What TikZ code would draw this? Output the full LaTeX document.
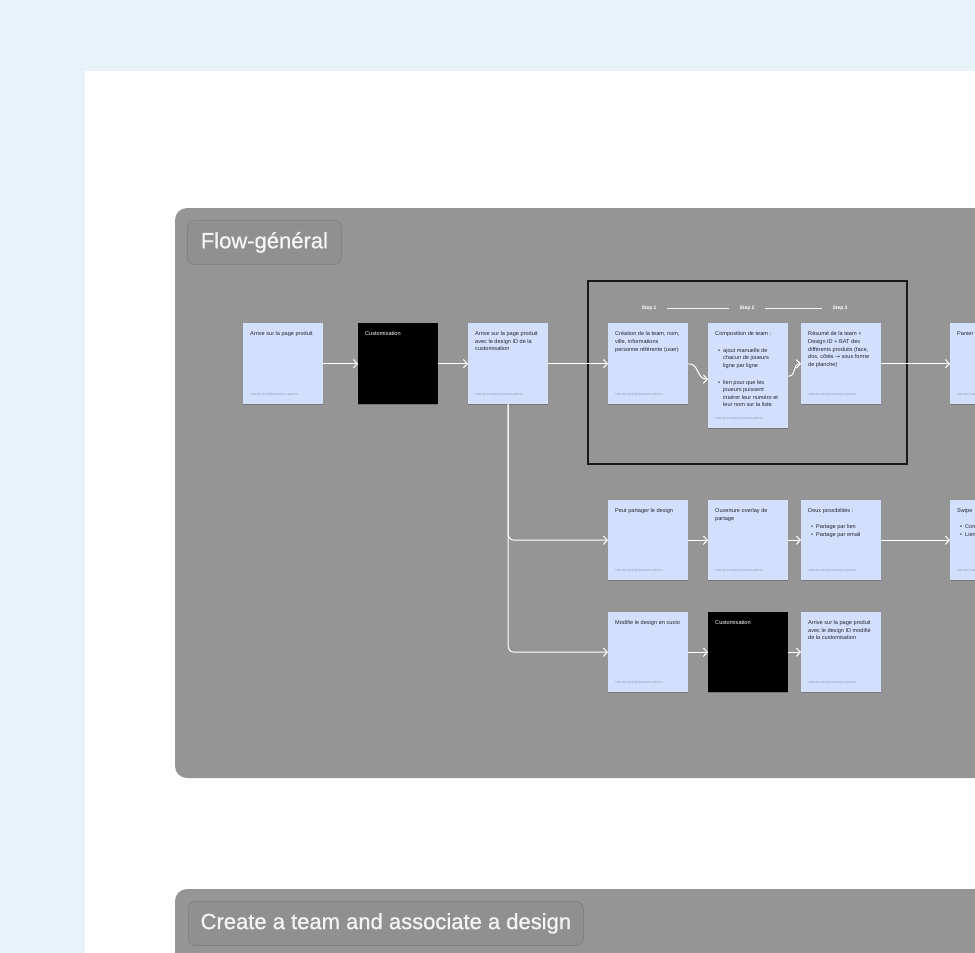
\documentclass[tikz,border=0pt]{standalone}
\usepackage{fontspec}
\setmainfont{Liberation Sans}
\newfontfamily\symfont{DejaVu Sans}
\newfontfamily\titlefont[FakeBold=0.8]{Liberation Sans}
\usetikzlibrary{arrows.meta,shadows}
\definecolor{bgblue}{RGB}{232,242,249}
\definecolor{sectgray}{RGB}{149,149,149}
\definecolor{pillgray}{RGB}{144,144,144}
\definecolor{pillline}{RGB}{130,130,130}
\definecolor{cardblue}{RGB}{211,224,251}
\definecolor{cardtext}{RGB}{35,38,50}
\definecolor{foottext}{RGB}{140,155,190}
\definecolor{boxline}{RGB}{25,25,25}
\newcommand\bitem{\hspace*{3pt}\makebox[5pt][l]{•}}
\newcommand\bcont{\hspace*{8pt}}
\tikzset{
  card/.style={fill=cardblue, draw=none, minimum width=80pt, minimum height=81pt, inner sep=0pt, anchor=north west,
    drop shadow={shadow xshift=0pt, shadow yshift=-0.8pt, opacity=0.2, fill=black}},
  darkcard/.style={card, fill=black},
  ctext/.style={anchor=north west, inner sep=0pt, font=\fontsize{5.6}{7.6}\selectfont, text=cardtext, align=left},
  wtext/.style={ctext, text=white},
  ftext/.style={anchor=south west, inner sep=0pt, font=\fontsize{3.3}{3.5}\selectfont, text=foottext},
  flow/.style={draw=white, line width=1pt, -{Straight Barb[length=4pt,width=8.5pt,line width=1pt]}},
  pill/.style={fill=pillgray, draw=pillline, line width=0.8pt, rounded corners=7pt, anchor=north west, inner sep=0pt,
    font=\titlefont\fontsize{22}{24}\selectfont, text=white!96!black},
  steplbl/.style={inner sep=0pt, font=\fontsize{5}{5.5}\selectfont\bfseries, text=white},
  stepline/.style={draw=white!90!gray, line width=0.5pt},
}
\begin{document}
\begin{tikzpicture}[x=1pt,y=-1pt]
\useasboundingbox (0,0) rectangle (975,953);
\clip (0,0) rectangle (975,953);
\fill[bgblue] (0,0) rectangle (975,953);
\fill[white] (85,71) rectangle (990,1000);
% sections
\fill[sectgray, rounded corners=12pt] (175,208) rectangle (1010,778);
\fill[sectgray, rounded corners=12pt] (175,889) rectangle (1010,1000);
\node[pill, minimum width=154pt, minimum height=44pt] (t1) at (187,220) {Flow-général};
\node[pill, minimum width=395pt, minimum height=44pt] (t2) at (188,901) {Create a team and associate a design};

% step box
\draw[boxline, line width=1.6pt] (588,281) rectangle (907,464);
\node[steplbl] (s1) at (649,308) {Step 1};
\node[steplbl] (s2) at (747,308) {Step 2};
\node[steplbl] (s3) at (840,308) {Step 3};
\draw[stepline] ([xshift=10.5pt]s1.east) -- ([xshift=-10pt]s2.west);
\draw[stepline] ([xshift=10.5pt]s2.east) -- ([xshift=-10pt]s3.west);

% row 1
\node[card] (n1) at (243,323) {};
\node[ctext] (n1t) at ([shift={(7pt,-8.5pt)}]n1.north west) {Arrive sur la page produit};
\node[ftext] (n1f) at ([shift={(7pt,8pt)}]n1.south west) {valentin.lanel@chausson.partner};

\node[darkcard] (n2) at (358,323) {};
\node[wtext] (n2t) at ([shift={(7pt,-8.5pt)}]n2.north west) {Customisation};

\node[card] (n3) at (468,323) {};
\node[ctext] (n3t) at ([shift={(7pt,-8.5pt)}]n3.north west) {Arrive sur la page produit\\avec le design ID de la\\customisation};
\node[ftext] (n3f) at ([shift={(7pt,8pt)}]n3.south west) {valentin.lanel@chausson.partner};

\node[card] (n4) at (608,323) {};
\node[ctext] (n4t) at ([shift={(7pt,-8.5pt)}]n4.north west) {Création de la team, nom,\\ville, informations\\personne référente (user)};
\node[ftext] (n4f) at ([shift={(7pt,8pt)}]n4.south west) {valentin.lanel@chausson.partner};

\node[card, minimum height=105pt] (n5) at (708,323) {};
\node[ctext] (n5t) at ([shift={(7pt,-8.5pt)}]n5.north west) {Composition de team :\\[9pt]
\bitem ajout manuelle de\\ \bcont chacun de joueurs\\ \bcont ligne par ligne\\[9pt]
\bitem lien pour que les\\ \bcont joueurs puissent\\ \bcont insérer leur numéro et\\ \bcont leur nom sur la liste};
\node[ftext] (n5f) at ([shift={(7pt,8pt)}]n5.south west) {valentin.lanel@chausson.partner};

\node[card] (n6) at (801,323) {};
\node[ctext] (n6t) at ([shift={(7pt,-8.5pt)}]n6.north west) {Résumé de la team +\\Design ID + BAT des\\différents produits (face,\\dos, côtés {\symfont →} sous forme\\de planche)};
\node[ftext] (n6f) at ([shift={(7pt,8pt)}]n6.south west) {valentin.lanel@chausson.partner};

\node[card] (n7) at (950,323) {};
\node[ctext] (n7t) at ([shift={(7pt,-8.5pt)}]n7.north west) {Panier};
\node[ftext] (n7f) at ([shift={(7pt,8pt)}]n7.south west) {valentin.lanel@chausson.partner};

% row 2
\node[card, minimum height=80pt] (n8) at (608,500) {};
\node[ctext] (n8t) at ([shift={(7pt,-8.5pt)}]n8.north west) {Peut partager le design};
\node[ftext] (n8f) at ([shift={(7pt,8pt)}]n8.south west) {valentin.lanel@chausson.partner};

\node[card, minimum height=80pt] (n9) at (708,500) {};
\node[ctext] (n9t) at ([shift={(7pt,-8.5pt)}]n9.north west) {Ouverture overlay de\\partage};
\node[ftext] (n9f) at ([shift={(7pt,8pt)}]n9.south west) {valentin.lanel@chausson.partner};

\node[card, minimum height=80pt] (n10) at (801,500) {};
\node[ctext] (n10t) at ([shift={(7pt,-8.5pt)}]n10.north west) {Deux possibilités :\\[8.4pt]
\bitem Partage par lien\\ \bitem Partage par email};
\node[ftext] (n10f) at ([shift={(7pt,8pt)}]n10.south west) {valentin.lanel@chausson.partner};

\node[card, minimum height=80pt] (n11) at (950,500) {};
\node[ctext] (n11t) at ([shift={(7pt,-8.5pt)}]n11.north west) {Swipe\\[8.4pt]
\bitem Con\\ \bitem Lien};
\node[ftext] (n11f) at ([shift={(7pt,8pt)}]n11.south west) {valentin.lanel@chausson.partner};

% row 3
\node[card, minimum height=80pt] (n12) at (608,612) {};
\node[ctext] (n12t) at ([shift={(7pt,-8.5pt)}]n12.north west) {Modifie le design en custo};
\node[ftext] (n12f) at ([shift={(7pt,8pt)}]n12.south west) {valentin.lanel@chausson.partner};

\node[darkcard, minimum height=80pt] (n13) at (708,612) {};
\node[wtext] (n13t) at ([shift={(7pt,-8.5pt)}]n13.north west) {Customisation};

\node[card, minimum height=80pt] (n14) at (801,612) {};
\node[ctext] (n14t) at ([shift={(7pt,-8.5pt)}]n14.north west) {Arrive sur la page produit\\avec le design ID modifié\\de la customisation};
\node[ftext] (n14f) at ([shift={(7pt,8pt)}]n14.south west) {valentin.lanel@chausson.partner};

% connectors
\draw[flow] (n1.east) -- (n2.west);
\draw[flow] (n2.east) -- (n3.west);
\draw[flow] (n3.east) -- (n4.west);
\coordinate (n5in) at ([yshift=-3.5pt]n5.west);
\draw[flow] (n4.east) .. controls (700,364) and (696,379) .. (n5in);
\coordinate (n5out) at ([yshift=-0.5pt]n5.east);
\draw[flow] (n5out) .. controls (797,376) and (792,364) .. (n6.west);
\draw[flow] (n6.east) -- (n7.west);
\draw[flow, rounded corners=6pt] (n3.south) |- (n8.west);
\draw[flow, rounded corners=6pt] (n3.south) |- (n12.west);
\draw[flow] (n8.east) -- (n9.west);
\draw[flow] (n9.east) -- (n10.west);
\draw[flow] (n10.east) -- (n11.west);
\draw[flow] (n12.east) -- (n13.west);
\draw[flow] (n13.east) -- (n14.west);
\end{tikzpicture}
\end{document}
